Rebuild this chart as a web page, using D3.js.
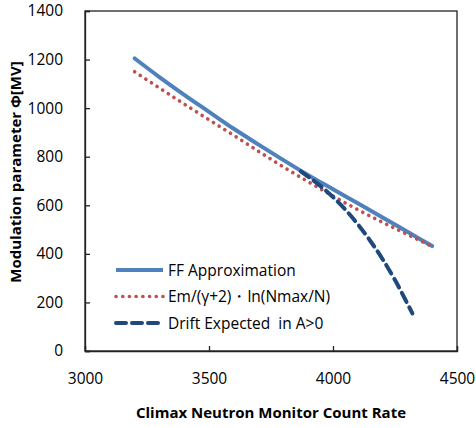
<!DOCTYPE html>
<html><head><meta charset="utf-8">
<script src="https://cdn.jsdelivr.net/npm/d3@7"></script>
<style>body{margin:0;background:#fff}svg{display:block}text{font-family:"Open Sans",sans-serif;fill:#000}</style>
</head><body><svg id="c" width="476" height="428"></svg>
<script>
const ffX = [3200,3300,3400,3500,3600,3700,3800,3900,4000,4100,4200,4300,4400];
const ffY = [1205,1128,1055,985,915,850,786,724,666,608,550,491,432];
const emX = [3200,3300,3400,3500,3600,3700,3800,3900,4000,4100,4200,4300,4400];
const emY = [1150,1083,1017,952,888,822,758,697,638,582,530,480,430];
const drX = [3870,3900,3950,4000,4050,4100,4150,4200,4250,4300,4320];
const drY = [740,718,679,634,582,522,454,378,292,195,155];
const xTicks = [3000,3500,4000,4500];
const yTicks = [0,200,400,600,800,1000,1200,1400];
const legendLabels = ["FF Approximation","Em/(γ+2)・ln(Nmax/N)","Drift Expected  in A>0"];

const svg = d3.select("#c");
const L=85,R=457,T=11,B=351;
const x = d3.scaleLinear().domain([3000,4500]).range([L,R]);
const y = d3.scaleLinear().domain([0,1400]).range([B,T]);

svg.append("rect").attr("x",L).attr("y",T).attr("width",R-L).attr("height",B-T)
  .attr("fill","none").attr("stroke","#222").attr("stroke-width",1.3);

const ax = svg.append("g").attr("transform",`translate(0,${B})`)
  .call(d3.axisBottom(x).tickValues(xTicks).tickSize(-5).tickPadding(22).tickFormat(d3.format("d")));
const ay = svg.append("g").attr("transform",`translate(${L},0)`)
  .call(d3.axisLeft(y).tickValues(yTicks).tickSize(-5).tickPadding(22).tickFormat(d3.format("d")));
[ax,ay].forEach(g=>{
  g.select(".domain").attr("stroke","#222").attr("stroke-width",1.3);
  g.selectAll(".tick line").attr("stroke","#222").attr("stroke-width",1.3);
  g.selectAll(".tick text").attr("font-size",15.5).attr("font-family","'Open Sans',sans-serif").attr("fill","#000");
});

const line = d3.line().x(d=>x(d[0])).y(d=>y(d[1])).curve(d3.curveMonotoneX);
const ff = ffX.map((v,i)=>[v,ffY[i]]);
const em = emX.map((v,i)=>[v,emY[i]]);
const dr = drX.map((v,i)=>[v,drY[i]]);

const styles = [
  {stroke:"#4F81BD",w:4,dash:null,cap:"round"},
  {stroke:"#C0504D",w:3.6,dash:"0.1 6.6",cap:"round"},
  {stroke:"#1F497D",w:4,dash:"10 6",cap:"round"}
];
[ff,em,dr].forEach((data,i)=>{
  const s=styles[i];
  svg.append("path").datum(data).attr("d",line).attr("fill","none")
    .attr("stroke",s.stroke).attr("stroke-width",s.w).attr("stroke-linecap",s.cap)
    .attr("stroke-dasharray",s.dash);
});

const lg = svg.append("g");
legendLabels.forEach((t,i)=>{
  const yy = 270 + i*26.5;
  const s=styles[i];
  lg.append("line").attr("x1",116).attr("x2",163).attr("y1",yy).attr("y2",yy)
    .attr("stroke",s.stroke).attr("stroke-width",s.w).attr("stroke-linecap",i===0?"butt":s.cap)
    .attr("stroke-dasharray",s.dash);
  lg.append("text").attr("x",168).attr("y",yy+5.5).attr("font-size",15.5)
    .style("white-space","pre").text(t);
});

svg.append("text").attr("x",271).attr("y",418).attr("text-anchor","middle")
  .attr("font-size",15).attr("font-weight","bold").text("Climax Neutron Monitor Count Rate");
svg.append("text").attr("transform","translate(21,172) rotate(-90)").attr("text-anchor","middle")
  .attr("font-size",15).attr("font-weight","bold").text("Modulation parameter Φ[MV]");
</script></body></html>
